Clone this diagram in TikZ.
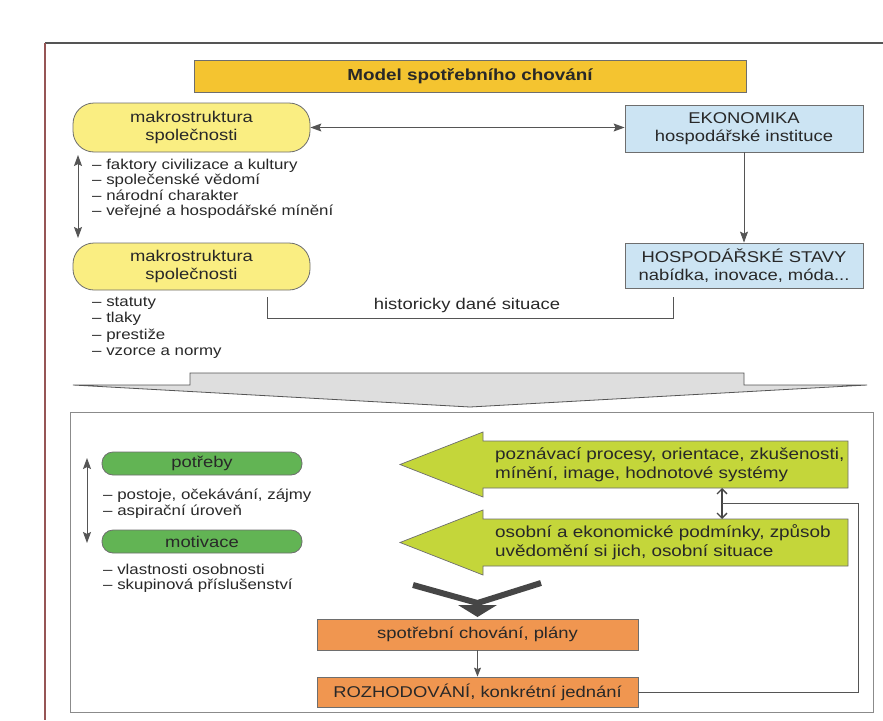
\documentclass[tikz,border=0pt]{standalone}
\usepackage{fontspec}
\setmainfont{Liberation Sans}[FakeStretch=1.18]
\usetikzlibrary{arrows.meta}
\definecolor{textc}{RGB}{40,40,40}
\definecolor{linec}{RGB}{85,85,85}
\definecolor{boxline}{RGB}{110,110,110}
\definecolor{titlec}{RGB}{244,196,48}
\definecolor{yellowc}{RGB}{250,238,130}
\definecolor{bluec}{RGB}{204,228,243}
\definecolor{greenc}{RGB}{98,180,84}
\definecolor{limec}{RGB}{196,214,58}
\definecolor{orangec}{RGB}{240,150,80}
\definecolor{greyfill}{RGB}{222,222,222}
\definecolor{redline}{RGB}{150,85,85}
\definecolor{ydark}{RGB}{70,70,70}
\begin{document}
\begin{tikzpicture}[x=1pt,y=-1pt,
  mainf/.style={font=\fontsize{15.6}{18.5}\selectfont},
  listf/.style={font=\fontsize{14.3}{15.5}\selectfont},
  box/.style={draw=boxline, line width=0.8pt, inner sep=0pt, align=center, mainf, text=textc},
  stad/.style={box, rounded corners=21pt},
  gstad/.style={box, rounded corners=11pt, fill=greenc},
  lst/.style={listf, text=textc, align=left, inner sep=0pt, anchor=west},
  conn/.style={draw=linec, line width=0.9pt},
  tipa/.style={-{Stealth[length=11pt,width=8pt,inset=2pt]}},
  tipb/.style={{Stealth[length=11pt,width=8pt,inset=2pt]}-{Stealth[length=11pt,width=8pt,inset=2pt]}},
  garrow/.style={fill=limec, draw=boxline, line width=0.7pt},
  yarr/.style={draw=ydark, line width=6pt},
]
\useasboundingbox (0,0) rectangle (883,720);
\fill[white] (0,0) rectangle (883,720);

% outer frame
\draw[draw=linec, line width=1.2pt] (45,43) -- (883,43);
\draw[draw=redline, line width=1.2pt] (45,43) -- (45,720);

% title
\node[box, fill=titlec, minimum width=552pt, minimum height=32pt,
      font=\bfseries\fontsize{16}{18}\selectfont] (title) at (470,76) {Model spotřebního chování};

% upper part
\node[stad, fill=yellowc, minimum width=237pt, minimum height=49pt] (mak1) at (191.5,127.5) {makrostruktura\\společnosti};
\node[box, fill=bluec, minimum width=238pt, minimum height=47pt] (eko) at (744,128.5) {EKONOMIKA\\hospodářské instituce};
\node[box, fill=bluec, minimum width=238pt, minimum height=45pt] (hosp) at (744,265.5) {HOSPODÁŘSKÉ STAVY\\nabídka, inovace, móda...};
\node[stad, fill=yellowc, minimum width=237pt, minimum height=47pt] (mak2) at (191.5,266.5) {makrostruktura\\společnosti};

\draw[conn, tipb] (mak1.east) -- (mak1.east -| eko.west);
\draw[conn, tipa] (eko.south) -- (hosp.north);

\coordinate (lvA) at (78,155);
\coordinate (lvB) at (78,238);
\draw[conn, tipb] (lvA) -- (lvB);

\node[lst] (list1) at (92,189) {– faktory civilizace a kultury\\– společenské vědomí\\– národní charakter\\– veřejné a hospodářské mínění};
\node[lst, font=\fontsize{14.3}{16.5}\selectfont] (list2) at (92,328) {– statuty\\– tlaky\\– prestiže\\– vzorce a normy};

\coordinate (brL) at (267,297);
\coordinate (brLb) at (267,318);
\coordinate (brR) at (673,297);
\coordinate (brRb) at (673,318);
\draw[conn] (brL) -- (brLb) -- (brRb) -- (brR);
\node[mainf, text=textc, inner sep=0pt] (hist) at (467,305) {historicky dané situace};

% big grey arrow
\draw[fill=greyfill, draw=linec, line width=0.8pt] (190,373) -- (744,373) -- (744,385) -- (867,385) -- (470,407) -- (73,385) -- (190,385) -- cycle;

% lower frame
\draw[draw=boxline!80, line width=1pt] (70,412) rectangle (873,712);

% lime arrows
\draw[garrow] (848,441) -- (483,441) -- (483,432) -- (400,464.5) -- (483,497) -- (483,488) -- (848,488) -- cycle;
\draw[garrow] (848,519) -- (483,519) -- (483,510) -- (400,542.5) -- (483,575) -- (483,566) -- (848,566) -- cycle;
\node[mainf, font=\fontsize{16}{19}\selectfont, text=textc, align=left, anchor=west, inner sep=0pt] (perc) at (495,464.5) {poznávací procesy, orientace, zkušenosti,\\mínění, image, hodnotové systémy};
\node[mainf, font=\fontsize{16}{19}\selectfont, text=textc, align=left, anchor=west, inner sep=0pt] (pers) at (495,542.5) {osobní a ekonomické podmínky, způsob\\uvědomění si jich, osobní situace};

\coordinate (dA) at (722,488);
\coordinate (dB) at (722,519);
\draw[draw=ydark, line width=1.3pt, {Straight Barb[length=5pt,width=10pt]}-{Straight Barb[length=5pt,width=10pt]}] (dA) -- (dB);

% green needs
\node[gstad, minimum width=200pt, minimum height=23pt] (potr) at (202,463.5) {potřeby};
\node[gstad, minimum width=200pt, minimum height=23pt] (moti) at (202,541.5) {motivace};
\coordinate (lwA) at (87,458);
\coordinate (lwB) at (87,543);
\draw[conn, tipb] (lwA) -- (lwB);
\node[lst] (list3) at (103,503.5) {– postoje, očekávání, zájmy\\– aspirační úroveň};
\node[lst] (list4) at (103,578.5) {– vlastnosti osobnosti\\– skupinová příslušenství};

% orange boxes
\node[box, fill=orangec, minimum width=321pt, minimum height=31pt] (spot) at (477.5,634.5) {spotřební chování, plány};
\node[box, fill=orangec, minimum width=321pt, minimum height=30pt] (roz) at (477.5,692) {ROZHODOVÁNÍ, konkrétní jednání};
\draw[conn, -{Stealth[length=9pt,width=7pt,inset=1.5pt]}] (spot.south) -- (roz.north);

% merge arrow
\coordinate (yL) at (413,585);
\coordinate (yR) at (541,583);
\coordinate (yJ) at (477.5,603);
\draw[yarr, line join=miter] (yL) -- (yJ) -- (yR);
\draw[yarr] (yJ) -- (477.5,609);
\fill[ydark] (458,605) -- (497,605) -- (477.5,617) -- cycle;

% feedback line
\coordinate (fbC) at (858,503);
\coordinate (fbD) at (722,503);
\draw[conn] (roz.east) -| (fbC) -- (fbD);
\end{tikzpicture}
\end{document}
